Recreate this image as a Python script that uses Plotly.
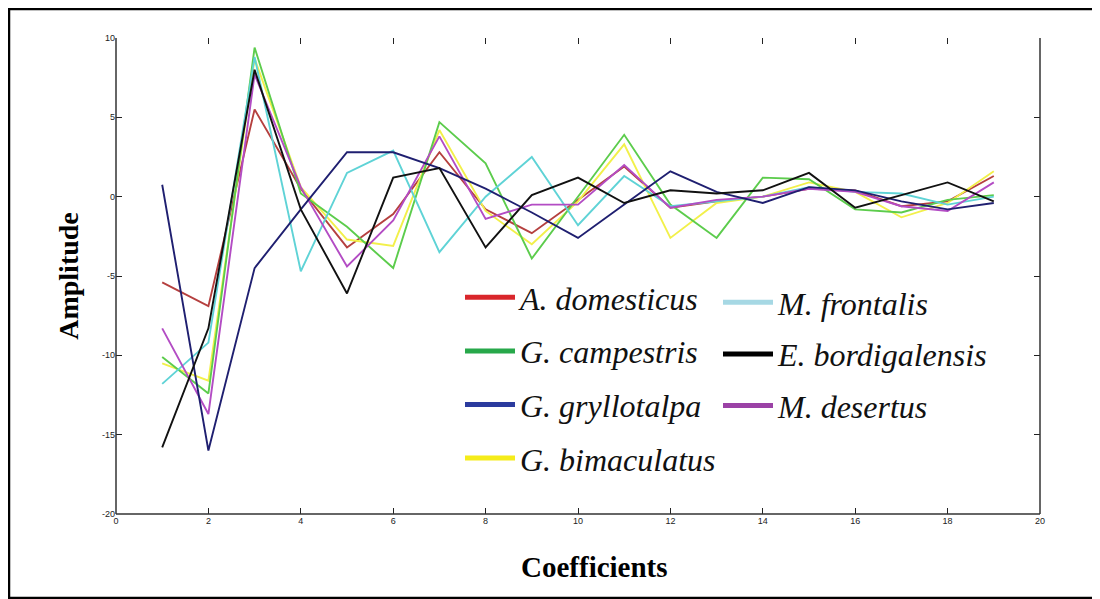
import plotly.graph_objects as go

coeffs = list(range(1, 20))

species = ["A. domesticus", "G. campestris", "G. gryllotalpa", "G. bimaculatus",
           "M. frontalis", "E. bordigalensis", "M. desertus"]

a_domesticus = [-5.4, -6.9, 5.5, 0.5, -3.2, -1.1, 2.8, -0.8, -2.3, -0.2, 1.9, -0.7, -0.3, 0.0, 0.5, 0.4, -0.6, -0.3, 1.3]
g_campestris = [-10.1, -12.4, 9.4, 0.2, -1.9, -4.5, 4.7, 2.1, -3.9, 0.0, 3.9, -0.5, -2.6, 1.2, 1.1, -0.8, -1.0, -0.2, 0.1]
g_gryllotalpa = [0.75, -16.0, -4.5, -0.8, 2.8, 2.8, 1.8, 0.5, -1.0, -2.6, -0.5, 1.6, 0.3, -0.4, 0.6, 0.4, -0.3, -0.8, -0.4]
g_bimaculatus = [-10.5, -11.6, 8.7, 0.6, -2.7, -3.1, 4.2, -0.9, -3.0, -0.3, 3.3, -2.6, -0.4, 0.0, 0.9, 0.3, -1.3, -0.4, 1.6]
m_frontalis = [-11.8, -9.2, 8.8, -4.7, 1.5, 2.9, -3.5, 0.0, 2.5, -1.8, 1.3, -0.6, -0.3, 0.0, 0.6, 0.3, 0.2, -0.5, 0.0]
e_bordigalensis = [-15.8, -8.3, 8.0, -0.8, -6.1, 1.2, 1.8, -3.2, 0.1, 1.2, -0.4, 0.4, 0.2, 0.4, 1.5, -0.7, 0.1, 0.9, -0.3]
m_desertus = [-8.3, -13.7, 7.7, 0.6, -4.4, -1.5, 3.8, -1.4, -0.5, -0.5, 2.0, -0.7, -0.2, 0.0, 0.5, 0.3, -0.6, -0.9, 0.9]

series = [a_domesticus, g_campestris, g_gryllotalpa, g_bimaculatus,
          m_frontalis, e_bordigalensis, m_desertus]
line_colors = ["#b5403f", "#5ccc4c", "#1f1f70", "#f2f04a", "#5fd3d6", "#111111", "#b34cc4"]
legend_colors = ["#d9262b", "#27a84a", "#2b3b9e", "#f5ec1a", "#a6d8e4", "#000000", "#9b42a6"]
legend_ids = ["legend", "legend", "legend", "legend", "legend2", "legend2", "legend2"]

x_ticks = list(range(0, 21, 2))
y_ticks = list(range(-20, 11, 5))

fig = go.Figure()

draw_order = [0, 3, 1, 4, 6, 2, 5]
for i in draw_order:
    fig.add_trace(go.Scatter(
        x=coeffs, y=series[i], mode="lines",
        line=dict(color=line_colors[i], width=1.9),
        showlegend=False, hoverinfo="skip"))

for i, name in enumerate(species):
    fig.add_trace(go.Scatter(
        x=[None], y=[None], mode="lines", name="<i>" + name + "</i>",
        line=dict(color=legend_colors[i], width=5),
        legend=legend_ids[i], legendgroup=name, showlegend=True))

legend_common = dict(
    font=dict(family="Liberation Serif", size=32, color="#111111"),
    bgcolor="rgba(0,0,0,0)", borderwidth=0,
    xanchor="left", yanchor="top", itemwidth=50)

# plot area inside the figure (page body adds 8px offset)
PL, PR, PT, PB = 108, 1032, 30, 506
PW, PH = PR - PL, PB - PT

fig.update_layout(
    width=1100, height=599,
    margin=dict(l=PL, r=1100 - PR, t=PT, b=599 - PB),
    paper_bgcolor="white", plot_bgcolor="white",
    legend=dict(x=(460 - 8 - PL) / PW, y=(PB - (270 - 8)) / PH,
                tracegroupgap=9, **legend_common),
    legend2=dict(x=(718 - 8 - PL) / PW, y=(PB - (275 - 8)) / PH,
                 tracegroupgap=7, **legend_common),
    xaxis=dict(
        range=[0, 20], tickvals=x_ticks, ticktext=[str(v) for v in x_ticks],
        ticks="inside", ticklen=6, tickcolor="#222", mirror="ticks",
        showline=False, showgrid=False, zeroline=False,
        tickfont=dict(family="Arial", size=9, color="#222")),
    yaxis=dict(
        range=[-20, 10], tickvals=y_ticks, ticktext=[str(v) for v in y_ticks],
        ticks="inside", ticklen=6, tickcolor="#222", mirror="ticks",
        showline=False, showgrid=False, zeroline=False,
        tickfont=dict(family="Arial", size=9, color="#222"),
        title=dict(text="<b>Amplitude</b>", standoff=15,
                   font=dict(family="Liberation Serif", size=28, color="#000"))),
    annotations=[
        dict(text="<b>Coefficients</b>", xref="paper", yref="paper",
             x=(594 - 8 - PL) / PW, y=(PB - (567 - 8)) / PH,
             xanchor="center", yanchor="middle", showarrow=False,
             font=dict(family="Liberation Serif", size=29, color="#000")),
    ],
    shapes=[
        dict(type="line", xref="paper", yref="paper", x0=0, x1=0, y0=0, y1=1,
             line=dict(color="#333", width=1.5)),
        dict(type="line", xref="paper", yref="paper", x0=0, x1=1, y0=0, y1=0,
             line=dict(color="#333", width=1.5)),
        dict(type="line", xref="paper", yref="paper", x0=1, x1=1, y0=0, y1=1,
             line=dict(color="#333", width=1.5)),
        dict(type="rect", xref="paper", yref="paper",
             x0=(1 - PL) / PW, x1=(1089 - PL) / PW,
             y0=(PB - 590) / PH, y1=(PB - 1) / PH,
             line=dict(color="#000", width=2.5)),
    ],
)

fig.write_html("out.html")
